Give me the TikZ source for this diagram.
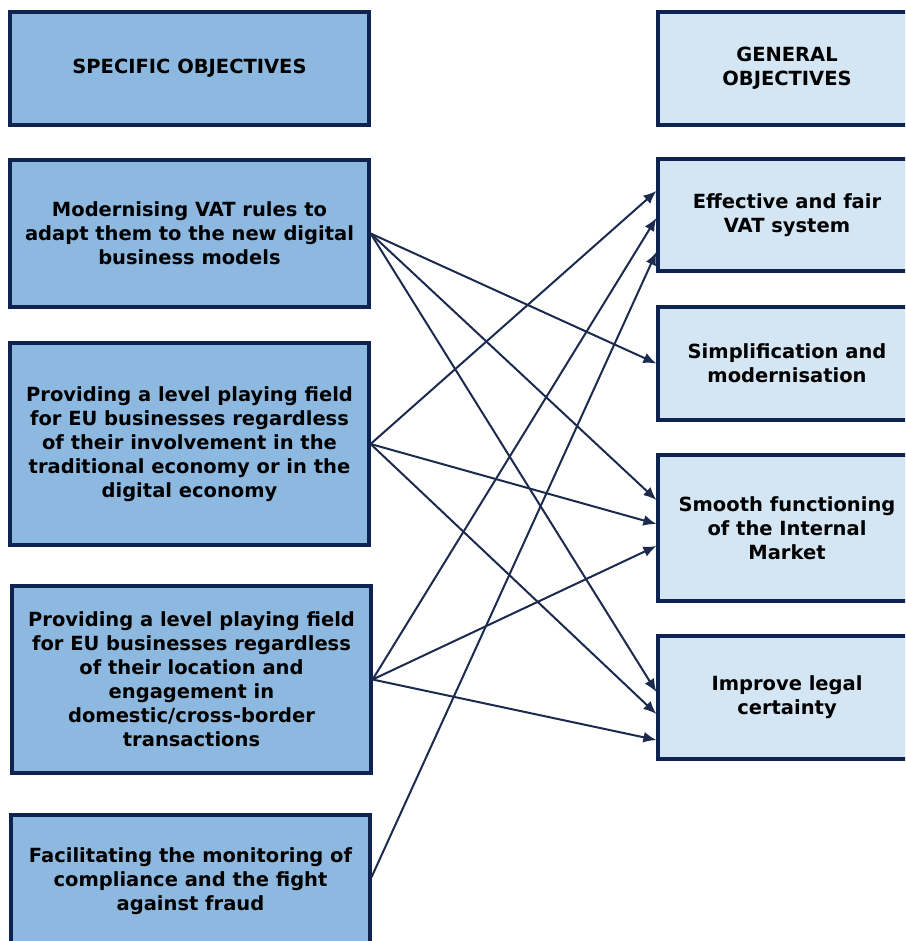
\documentclass[tikz,border=0pt]{standalone}
\usepackage{fontspec}
\setmainfont{DejaVu Sans}
\usetikzlibrary{arrows.meta}
\definecolor{specblue}{HTML}{8DB9E0}
\definecolor{genblue}{HTML}{D4E5F3}
\definecolor{boxline}{HTML}{0F2350}
\definecolor{linkline}{HTML}{1C2A4E}
\tikzset{
  objbox/.style={draw=boxline,line width=3.2pt,align=center,
    font=\fontsize{19.5}{24}\selectfont\bfseries,inner sep=0pt},
  specbox/.style={objbox,fill=specblue,minimum width=359pt},
  genbox/.style={objbox,fill=genblue,minimum width=258pt},
  link/.style={draw=linkline,line width=2pt,-{Latex[length=13pt,width=11pt]}}
}
\begin{document}
\begin{tikzpicture}[x=1pt,y=-1pt]
\useasboundingbox (0,0) rectangle (905,941);
\clip (0,0) rectangle (905,941);
% specific objectives
\node[specbox,minimum height=113pt] (shead) at (189.5,68.5) {SPECIFIC OBJECTIVES};
\node[specbox,minimum height=147pt] (s1) at (189.5,233.5) {Modernising VAT rules to\\adapt them to the new digital\\business models};
\node[specbox,minimum height=202pt] (s2) at (189.5,444) {Providing a level playing field\\for EU businesses regardless\\of their involvement in the\\traditional economy or in the\\digital economy};
\node[specbox,minimum height=187pt] (s3) at (191.5,679.5) {Providing a level playing field\\for EU businesses regardless\\of their location and\\engagement in\\domestic/cross-border\\transactions};
\node[specbox,minimum height=132pt] (s4) at (190.5,881) {Facilitating the monitoring of\\compliance and the fight\\against fraud};
% general objectives
\node[genbox,minimum height=113pt] (ghead) at (787,68.5) {GENERAL\\OBJECTIVES};
\node[genbox,minimum height=112pt] (g1) at (787,215) {Effective and fair\\VAT system};
\node[genbox,minimum height=113pt] (g2) at (787,363.5) {Simplification and\\modernisation};
\node[genbox,minimum height=146pt] (g3) at (787,528) {Smooth functioning\\of the Internal\\Market};
\node[genbox,minimum height=123pt] (g4) at (787,697.5) {Improve legal\\certainty};
% links
\draw[link] (s1.east) -- (g2.west);
\draw[link] (s1.east) -- ([yshift=28pt]g3.west);
\draw[link] (s1.east) -- ([yshift=5.5pt]g4.west);
\draw[link] (s2.east) -- ([yshift=24pt]g1.west);
\draw[link] (s2.east) -- ([yshift=4pt]g3.west);
\draw[link] (s2.east) -- ([yshift=-16.5pt]g4.west);
\draw[link] (s3.east) -- ([yshift=-3pt]g1.west);
\draw[link] (s3.east) -- ([yshift=-18pt]g3.west);
\draw[link] (s3.east) -- ([yshift=-42.5pt]g4.west);
\draw[link] ([yshift=4pt]s4.east) -- ([yshift=-37pt]g1.west);
\end{tikzpicture}
\end{document}
